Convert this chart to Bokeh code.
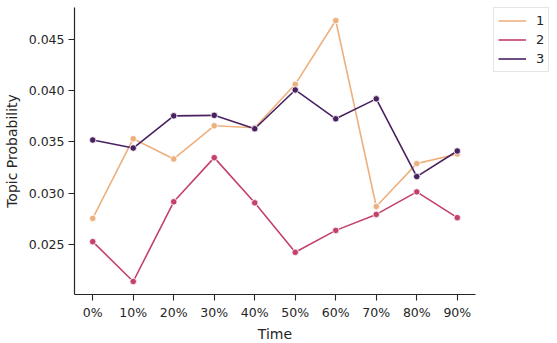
from bokeh.plotting import figure
from bokeh.models import FixedTicker, NumeralTickFormatter, Range1d, Legend, LegendItem
from bokeh.embed import file_html
from bokeh.resources import INLINE

# ---- data ----
time_labels = ["0%", "10%", "20%", "30%", "40%", "50%", "60%", "70%", "80%", "90%"]
time_pos = list(range(len(time_labels)))
topic_names = ["1", "2", "3"]
topic1 = [0.02753, 0.03531, 0.03333, 0.03657, 0.03638, 0.04062, 0.04685, 0.02869, 0.03288, 0.03382]
topic2 = [0.02526, 0.02137, 0.02915, 0.03346, 0.02905, 0.02422, 0.02636, 0.02792, 0.03012, 0.02760]
topic3 = [0.03518, 0.03440, 0.03754, 0.03759, 0.03628, 0.04007, 0.03725, 0.03920, 0.03161, 0.03411]
y_ticks = [0.025, 0.030, 0.035, 0.040, 0.045]

colors = ["#edb07f", "#c4416a", "#4a2160"]
FONT = "DejaVu Sans"
TXT = "#262626"

p = figure(output_backend="svg", toolbar_location=None,
           frame_width=401, frame_height=287,
           x_range=Range1d(-0.45, 9.45), y_range=Range1d(0.02010, 0.04812),
           min_border_left=70, min_border_top=7, min_border_right=75, min_border_bottom=0)
p.outline_line_color = None
p.xgrid.visible = False
p.ygrid.visible = False
p.background_fill_color = "white"
p.border_fill_color = "white"

items = []
for name, vals, c in zip(topic_names, [topic1, topic2, topic3], colors):
    r = p.line(time_pos, vals, line_color=c, line_width=1.6)
    p.scatter(time_pos, vals, size=6.5, fill_color=c, line_color="white", line_width=0.8)
    items.append(LegendItem(label=name, renderers=[r]))

legend = Legend(items=items, location=(18, 222))
legend.label_text_font = FONT
legend.label_text_font_size = "13px"
legend.label_text_color = TXT
legend.glyph_width = 28
legend.glyph_height = 17
legend.label_height = 17
legend.label_width = 8
legend.spacing = 2
legend.padding = 4
legend.margin = 0
legend.border_line_color = "#cccccc"
legend.border_line_width = 1
legend.label_standoff = 10
legend.background_fill_alpha = 1
p.add_layout(legend, "right")

for ax in (p.xaxis[0], p.yaxis[0]):
    ax.axis_line_color = TXT
    ax.axis_line_width = 1.2
    ax.major_tick_line_color = TXT
    ax.major_tick_line_width = 1.1
    ax.major_tick_out = 6
    ax.major_tick_in = 0
    ax.minor_tick_line_color = None
    ax.major_label_text_font = FONT
    ax.major_label_text_font_size = "12.5px"
    ax.major_label_text_color = TXT
    ax.axis_label_text_font = FONT
    ax.axis_label_text_font_size = "14px"
    ax.axis_label_text_font_style = "normal"
    ax.axis_label_text_color = TXT

p.xaxis.ticker = FixedTicker(ticks=time_pos)
p.xaxis.major_label_overrides = {i: lab for i, lab in zip(time_pos, time_labels)}
p.xaxis.axis_label = "Time"
p.xaxis.axis_label_standoff = 3
p.xaxis.major_label_standoff = 4

p.yaxis.ticker = FixedTicker(ticks=y_ticks)
p.yaxis.formatter = NumeralTickFormatter(format="0.000")
p.yaxis.axis_label = "Topic Probability"
p.yaxis.axis_label_standoff = 6
p.yaxis.major_label_standoff = 4

open("out.html", "w").write(file_html(p, INLINE))
